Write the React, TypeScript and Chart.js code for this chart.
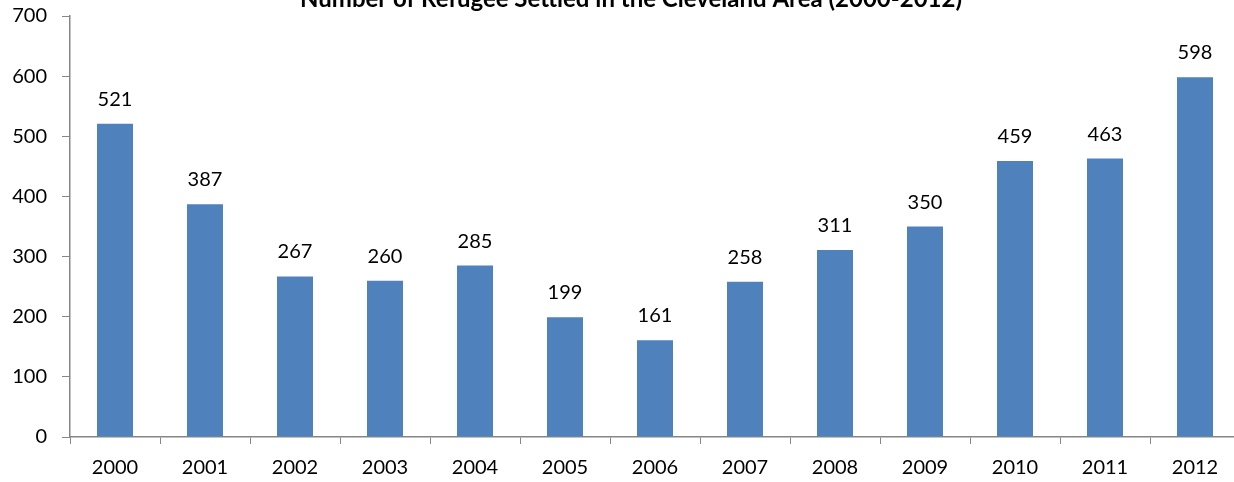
import React, { useEffect, useRef } from "react";
import { Chart, registerables } from "chart.js";

Chart.register(...registerables);

const titleText = "Number of Refugee Settled in the Cleveland Area (2000-2012)";
const years = ["2000", "2001", "2002", "2003", "2004", "2005", "2006", "2007", "2008", "2009", "2010", "2011", "2012"];
const refugees = [521, 387, 267, 260, 285, 199, 161, 258, 311, 350, 459, 463, 598];
const yMin = 0;
const yMax = 700;
const yStep = 100;

const FONT = "Lato, 'Open Sans', sans-serif";
const AXIS = "#868686";

const valueLabels = {
  id: "valueLabels",
  afterDatasetsDraw(chart: any) {
    const ctx = chart.ctx;
    const meta = chart.getDatasetMeta(0);
    ctx.save();
    ctx.font = `20px ${FONT}`;
    ctx.fillStyle = "#000";
    ctx.textAlign = "center";
    ctx.textBaseline = "alphabetic";
    meta.data.forEach((el: any, i: number) => {
      ctx.fillText(String(refugees[i]), el.x, el.y - 18);
    });
    ctx.restore();
  },
};

const topTitle = {
  id: "topTitle",
  afterDraw(chart: any) {
    const ctx = chart.ctx;
    ctx.save();
    ctx.font = `bold 24px ${FONT}`;
    ctx.fillStyle = "#000";
    ctx.textAlign = "center";
    ctx.textBaseline = "alphabetic";
    ctx.fillText(titleText, 631, 7);
    ctx.restore();
  },
};

export default function App() {
  const ref = useRef<HTMLCanvasElement>(null);
  useEffect(() => {
    if (!ref.current) return;
    const chart = new Chart(ref.current, {
      type: "bar",
      data: {
        labels: years,
        datasets: [
          {
            data: refugees,
            backgroundColor: "#4F81BD",
            borderWidth: 0,
            barPercentage: 0.4,
            categoryPercentage: 1,
          },
        ],
      },
      plugins: [valueLabels, topTitle],
      options: {
        animation: false,
        responsive: false,
        devicePixelRatio: 1,
        layout: { padding: { top: 16, right: 10, left: 0, bottom: 0 } },
        plugins: {
          legend: { display: false },
          title: { display: false },
          tooltip: { enabled: false },
        },
        scales: {
          x: {
            offset: true,
            afterFit(scale: any) {
              scale.height = 45;
              scale.paddingLeft = 0;
              scale.paddingRight = 0;
            },
            grid: {
              offset: true,
              drawOnChartArea: false,
              drawTicks: true,
              tickLength: 7,
              color: AXIS,
              lineWidth: 1,
            },
            border: { color: AXIS, width: 1.5 },
            ticks: {
              color: "#000",
              font: { family: FONT, size: 20 },
              padding: 12,
              maxRotation: 0,
              autoSkip: false,
            },
          },
          y: {
            min: yMin,
            max: yMax,
            afterFit(scale: any) {
              scale.width = 70;
              scale.paddingTop = 0;
              scale.paddingBottom = 0;
            },
            grid: {
              drawOnChartArea: false,
              drawTicks: true,
              tickLength: 8,
              color: AXIS,
              lineWidth: 1,
            },
            border: { color: AXIS, width: 1.5 },
            ticks: {
              stepSize: yStep,
              color: "#000",
              font: { family: FONT, size: 20 },
              padding: 15,
            },
          },
        },
      },
    });
    return () => chart.destroy();
  }, []);
  return (
    <div style={{ position: "fixed", left: 0, top: 0, width: 1234, height: 482, overflow: "hidden", background: "#fff" }}>
      <canvas ref={ref} width={1250} height={482} style={{ width: 1250, height: 482, display: "block" }} />
    </div>
  );
}
